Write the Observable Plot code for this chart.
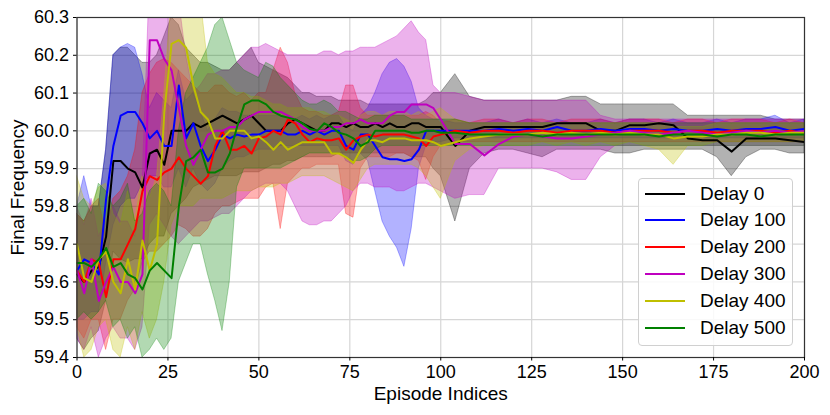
<!DOCTYPE html>
<html>
<head>
<meta charset="utf-8">
<script src="https://cdn.jsdelivr.net/npm/d3@7"></script>
<script src="https://cdn.jsdelivr.net/npm/@observablehq/plot@0.6"></script>
<style>
  body { margin: 0; background: #fff; font-family: "Liberation Sans", Arial, sans-serif; }
  #wrap { position: relative; width: 830px; height: 415px; }
  #legend { position: absolute; left: 638px; top: 178px; width: 155px; height: 168px;
    border: 1px solid #d0d0d0; border-radius: 4px; background: rgba(255,255,255,0.85); box-sizing: border-box; }
  .row { position: absolute; left: 0; height: 27px; display: flex; align-items: center; font-size: 19px; color: #000; }
  .row svg { margin-left: 6px; margin-right: 15px; }
</style>
</head>
<body>
<div id="wrap"></div>
<script>
const episodes = [
  0,2,4,6,8,10,12,14,16,18,
  20,22,24,26,28,30,32,34,36,38,
  40,42,44,46,48,50,52,54,56,58,
  60,62,64,66,68,70,72,74,76,78,
  80,82,84,86,88,90,92,94,96,98,
  100,104,108,112,116,120,124,128,132,136,
  140,144,148,152,156,160,164,168,172,176,
  180,184,188,192,196,200];

const seriesLabels = ["Delay 0","Delay 100","Delay 200","Delay 300","Delay 400","Delay 500"];
const xTicks = [0,25,50,75,100,125,150,175,200];
const yTicks = [59.4,59.5,59.6,59.7,59.8,59.9,60.0,60.1,60.2,60.3];

// Delay 0
const d0 = [
  59.62,59.60,59.63,59.64,59.72,59.92,59.92,59.90,59.89,59.85,
  59.94,59.95,59.91,60.00,60.00,60.00,60.02,60.01,60.02,60.03,
  60.04,60.03,60.02,60.03,60.04,60.02,60.00,60.00,60.00,60.02,
  60.03,60.02,60.01,60.00,60.00,60.02,60.02,60.01,60.02,60.01,
  60.01,60.02,60.01,60.02,60.01,60.01,60.02,60.02,60.01,60.01,
  60.01,59.96,60.00,60.01,60.01,60.01,60.01,60.01,60.02,60.02,
  60.02,60.00,60.00,60.015,60.015,60.02,60.015,59.98,59.975,59.975,
  59.945,59.98,59.98,59.98,59.975,59.97];
const d0lo = [
  59.45,59.42,59.45,59.47,59.55,59.68,59.66,59.65,59.66,59.66,
  59.70,59.72,59.72,59.78,59.80,59.82,59.85,59.86,59.87,59.88,
  59.88,59.88,59.88,59.89,59.89,59.89,59.90,59.91,59.91,59.92,
  59.92,59.93,59.93,59.93,59.93,59.93,59.94,59.94,59.94,59.94,
  59.94,59.94,59.94,59.94,59.94,59.94,59.93,59.93,59.93,59.90,
  59.88,59.76,59.90,59.94,59.95,59.95,59.94,59.93,59.95,59.95,
  59.95,59.95,59.94,59.94,59.95,59.95,59.95,59.95,59.95,59.93,
  59.88,59.93,59.95,59.95,59.94,59.94];
const d0hi = [
  59.78,59.76,59.80,59.80,59.95,60.20,60.22,60.22,60.20,60.18,
  60.18,60.20,60.25,60.30,60.28,60.22,60.20,60.18,60.18,60.17,
  60.16,60.16,60.18,60.20,60.22,60.18,60.17,60.16,60.15,60.14,
  60.12,60.10,60.10,60.09,60.09,60.09,60.08,60.08,60.08,60.08,
  60.07,60.07,60.07,60.07,60.07,60.07,60.07,60.07,60.08,60.10,
  60.10,60.15,60.09,60.08,60.08,60.08,60.08,60.08,60.08,60.09,
  60.09,60.07,60.07,60.07,60.07,60.07,60.07,60.04,60.04,60.04,
  60.04,60.04,60.04,60.03,60.03,60.03];

// Delay 100
const d1 = [
  59.63,59.66,59.65,59.62,59.82,59.96,60.04,60.05,60.05,60.02,
  59.98,60.00,59.96,59.96,60.12,59.98,60.02,59.96,59.92,59.95,
  59.99,59.98,59.99,59.985,59.99,59.99,60.00,60.00,60.00,59.99,
  59.99,60.00,59.99,60.00,59.99,60.00,60.00,59.96,59.95,59.99,
  59.99,59.96,59.93,59.925,59.925,59.92,59.925,59.95,60.00,60.00,
  60.00,60.00,60.00,60.00,60.005,60.00,60.005,60.00,60.01,60.00,
  60.00,60.005,60.00,60.005,60.005,60.00,60.005,60.00,60.00,60.005,
  60.00,60.005,60.005,60.01,60.00,60.005];
const d1lo = [
  59.50,59.50,59.52,59.52,59.65,59.75,59.80,59.82,59.82,59.86,
  59.88,59.88,59.85,59.85,59.90,59.85,59.90,59.86,59.84,59.86,
  59.90,59.92,59.93,59.93,59.94,59.95,59.95,59.95,59.96,59.96,
  59.96,59.96,59.96,59.96,59.96,59.96,59.96,59.92,59.91,59.94,
  59.92,59.84,59.76,59.72,59.69,59.64,59.74,59.90,59.96,59.97,
  59.97,59.98,59.98,59.98,59.98,59.98,59.98,59.98,59.98,59.98,
  59.98,59.98,59.98,59.98,59.98,59.98,59.98,59.98,59.98,59.98,
  59.98,59.98,59.98,59.98,59.98,59.98];
const d1hi = [
  59.80,59.88,59.80,59.80,59.95,60.20,60.22,60.23,60.22,60.15,
  60.06,60.10,60.08,60.06,60.16,60.08,60.10,60.05,60.00,60.03,
  60.06,60.05,60.05,60.04,60.04,60.04,60.04,60.04,60.04,60.03,
  60.03,60.04,60.03,60.04,60.03,60.04,60.04,60.01,60.00,60.04,
  60.06,60.10,60.15,60.18,60.19,60.17,60.13,60.06,60.04,60.03,
  60.03,60.02,60.02,60.02,60.03,60.02,60.03,60.02,60.03,60.02,
  60.02,60.03,60.02,60.03,60.03,60.02,60.03,60.02,60.02,60.03,
  60.02,60.03,60.03,60.04,60.02,60.03];

// Delay 200
const d2 = [
  59.63,59.60,59.66,59.65,59.56,59.66,59.66,59.70,59.74,59.84,
  59.88,59.87,59.89,59.90,59.93,59.90,59.88,59.86,59.88,59.96,
  60.00,59.95,59.95,59.96,59.94,59.98,59.985,60.00,59.99,60.03,
  60.02,59.99,59.97,59.98,59.975,59.975,59.98,59.95,59.975,59.985,
  59.99,59.985,59.99,59.99,59.99,59.99,59.985,59.98,59.96,59.985,
  59.99,60.00,59.995,60.00,60.00,59.995,60.00,60.00,59.995,60.00,
  60.00,60.00,59.995,60.00,60.00,60.00,59.995,60.00,60.00,59.995,
  60.00,60.00,60.00,59.995,60.00,59.995];
const d2lo = [
  59.48,59.45,59.50,59.50,59.42,59.50,59.50,59.55,59.58,59.65,
  59.68,59.68,59.70,59.72,59.75,59.74,59.72,59.72,59.74,59.78,
  59.80,59.80,59.81,59.82,59.82,59.82,59.85,59.86,59.74,59.86,
  59.88,59.90,59.90,59.91,59.91,59.91,59.91,59.78,59.77,59.90,
  59.93,59.93,59.93,59.93,59.94,59.94,59.93,59.92,59.87,59.93,
  59.96,59.97,59.97,59.97,59.97,59.97,59.97,59.97,59.97,59.97,
  59.97,59.97,59.97,59.97,59.97,59.97,59.97,59.97,59.97,59.97,
  59.97,59.97,59.97,59.97,59.97,59.97];
const d2hi = [
  59.78,59.76,59.80,59.82,59.72,59.82,59.84,59.88,59.95,60.10,
  60.15,60.18,60.19,60.18,60.16,60.14,60.12,60.10,60.10,60.12,
  60.12,60.10,60.09,60.10,60.08,60.10,60.10,60.16,60.22,60.18,
  60.10,60.06,60.05,60.05,60.04,60.04,60.05,60.12,60.12,60.06,
  60.04,60.04,60.04,60.04,60.04,60.04,60.04,60.04,60.05,60.04,
  60.02,60.03,60.02,60.03,60.03,60.02,60.03,60.03,60.02,60.03,
  60.03,60.03,60.02,60.03,60.03,60.03,60.02,60.03,60.03,60.02,
  60.03,60.03,60.03,60.02,60.03,60.02];

// Delay 300
const d3 = [
  59.63,59.57,59.66,59.55,59.60,59.64,59.60,59.60,59.57,59.62,
  60.24,60.24,60.19,60.16,60.06,59.96,59.91,59.95,59.99,60.00,
  60.00,60.01,60.01,60.03,60.04,60.05,60.05,60.05,60.05,60.04,
  60.03,60.01,60.00,60.00,60.00,60.01,60.01,60.02,60.02,60.03,
  60.02,60.02,60.02,60.04,60.05,60.05,60.07,60.07,60.07,60.06,
  60.03,59.965,59.965,59.935,59.965,59.985,59.99,59.985,59.98,59.98,
  59.985,59.99,59.995,60.00,59.995,59.99,59.995,60.00,59.995,59.99,
  59.995,60.00,59.995,60.00,59.995,60.00];
const d3lo = [
  59.45,59.42,59.48,59.40,59.45,59.48,59.45,59.45,59.42,59.48,
  59.75,59.78,59.75,59.72,59.70,59.72,59.74,59.76,59.76,59.77,
  59.78,59.78,59.80,59.82,59.84,59.85,59.86,59.86,59.86,59.84,
  59.80,59.76,59.75,59.75,59.76,59.76,59.78,59.80,59.84,59.86,
  59.86,59.85,59.85,59.85,59.84,59.84,59.85,59.86,59.86,59.85,
  59.84,59.82,59.83,59.83,59.90,59.90,59.90,59.90,59.89,59.87,
  59.87,59.93,59.96,59.96,59.96,59.96,59.96,59.96,59.96,59.96,
  59.96,59.96,59.96,59.96,59.96,59.96];
const d3hi = [
  59.80,59.75,59.82,59.72,59.76,59.80,59.76,59.76,59.72,59.85,
  60.40,60.40,60.40,60.40,60.35,60.20,60.10,60.12,60.15,60.15,
  60.16,60.16,60.18,60.20,60.22,60.22,60.23,60.22,60.21,60.20,
  60.20,60.20,60.20,60.20,60.21,60.21,60.20,60.21,60.21,60.22,
  60.22,60.22,60.23,60.24,60.25,60.27,60.29,60.26,60.24,60.12,
  60.10,60.10,60.09,60.08,60.08,60.08,60.08,60.08,60.08,60.08,
  60.08,60.04,60.03,60.03,60.03,60.03,60.03,60.03,60.03,60.03,
  60.03,60.03,60.03,60.03,60.03,60.03];

// Delay 400
const d4 = [
  59.70,59.61,59.60,59.66,59.68,59.60,59.57,59.66,59.58,59.71,
  59.63,59.70,60.05,60.23,60.24,60.22,60.12,60.05,60.03,59.98,
  59.98,60.00,60.00,60.00,59.98,59.985,59.97,59.95,59.97,59.95,
  59.96,59.97,59.97,59.97,59.97,59.94,59.94,59.93,59.915,59.95,
  59.975,59.975,59.97,59.98,59.98,59.98,59.975,59.975,59.975,59.97,
  59.96,59.97,59.98,59.985,59.99,59.99,59.99,59.995,59.99,59.995,
  59.99,59.995,59.99,59.995,59.99,59.99,59.98,59.985,59.985,59.99,
  59.99,59.995,59.995,59.99,59.995,59.995];
const d4lo = [
  59.48,59.40,59.42,59.48,59.50,59.42,59.40,59.48,59.42,59.52,
  59.45,59.50,59.60,59.75,59.80,59.80,59.80,59.82,59.82,59.82,
  59.82,59.83,59.84,59.84,59.84,59.85,59.85,59.85,59.86,59.86,
  59.87,59.88,59.88,59.88,59.88,59.87,59.86,59.85,59.84,59.87,
  59.90,59.91,59.91,59.91,59.91,59.91,59.91,59.90,59.88,59.85,
  59.82,59.92,59.95,59.96,59.96,59.96,59.96,59.97,59.96,59.97,
  59.96,59.97,59.96,59.97,59.96,59.95,59.91,59.96,59.96,59.97,
  59.97,59.97,59.97,59.97,59.97,59.97];
const d4hi = [
  59.88,59.82,59.80,59.85,59.86,59.78,59.75,59.84,59.76,59.88,
  59.82,59.88,60.10,60.35,60.40,60.40,60.40,60.35,60.18,60.15,
  60.14,60.12,60.10,60.10,60.09,60.09,60.08,60.07,60.07,60.06,
  60.06,60.06,60.06,60.05,60.05,60.04,60.04,60.03,60.02,60.04,
  60.05,60.05,60.04,60.05,60.05,60.05,60.04,60.05,60.04,60.05,
  60.06,60.03,60.02,60.02,60.02,60.02,60.02,60.02,60.02,60.02,
  60.02,60.02,60.02,60.02,60.02,60.02,60.01,60.01,60.01,60.02,
  60.02,60.02,60.02,60.02,60.02,60.02];

// Delay 500
const d5 = [
  59.65,59.65,59.64,59.66,59.69,59.64,59.65,59.62,59.61,59.58,
  59.63,59.65,59.63,59.61,59.80,59.92,59.93,59.95,59.89,59.89,
  59.90,59.94,60.01,60.07,60.08,60.08,60.07,60.05,60.04,60.035,
  60.03,60.02,60.005,60.00,60.02,60.01,59.995,59.99,59.98,59.96,
  59.97,60.00,60.00,60.00,60.00,60.00,59.995,59.995,60.00,60.00,
  59.995,59.995,59.99,59.99,59.99,59.99,59.99,59.985,59.99,59.99,
  59.99,59.99,59.99,59.99,59.99,59.985,59.99,59.99,59.99,59.985,
  59.99,59.99,59.985,59.99,59.99,59.99];
const d5lo = [
  59.50,59.52,59.50,59.52,59.55,59.48,59.50,59.45,59.48,59.40,
  59.42,59.45,59.42,59.45,59.60,59.65,59.70,59.70,59.62,59.55,
  59.47,59.60,59.85,59.90,59.90,59.90,59.90,59.90,59.90,59.91,
  59.92,59.93,59.94,59.94,59.94,59.94,59.94,59.93,59.92,59.92,
  59.93,59.95,59.96,59.96,59.96,59.96,59.96,59.96,59.96,59.96,
  59.96,59.96,59.96,59.96,59.96,59.96,59.96,59.96,59.96,59.96,
  59.96,59.96,59.96,59.96,59.96,59.96,59.96,59.96,59.96,59.96,
  59.96,59.96,59.96,59.96,59.96,59.96];
const d5hi = [
  59.80,59.82,59.78,59.86,59.84,59.80,59.82,59.86,59.76,59.78,
  59.84,59.86,59.84,59.80,60.00,60.10,60.14,60.18,60.22,60.28,
  60.30,60.24,60.18,60.16,60.15,60.14,60.18,60.17,60.14,60.12,
  60.10,60.08,60.07,60.07,60.08,60.07,60.05,60.05,60.04,60.03,
  60.03,60.04,60.04,60.04,60.04,60.04,60.03,60.03,60.03,60.03,
  60.03,60.03,60.02,60.02,60.02,60.02,60.02,60.02,60.02,60.02,
  60.02,60.02,60.02,60.02,60.02,60.02,60.02,60.02,60.02,60.02,
  60.02,60.02,60.02,60.02,60.02,60.02];

const means = [d0, d1, d2, d3, d4, d5];
const lows  = [d0lo, d1lo, d2lo, d3lo, d4lo, d5lo];
const highs = [d0hi, d1hi, d2hi, d3hi, d4hi, d5hi];
const colors = ["#000000", "#0000ff", "#ff0000", "#bf00bf", "#bfbf00", "#008000"];

[means, lows, highs].forEach(g => g.forEach((a, i) => {
  if (a.length !== episodes.length) console.error("length mismatch", i, a.length);
}));

const tables = seriesLabels.map((name, i) =>
  episodes.map((ep, j) => ({ ep, mean: means[i][j], lo: lows[i][j], hi: highs[i][j], name })));

const font = '"Liberation Sans", Arial, sans-serif';

const chart = Plot.plot({
  width: 830,
  height: 415,
  marginLeft: 76.5,
  marginRight: 26,
  marginTop: 17,
  marginBottom: 58,
  style: { fontFamily: font, fontSize: "18px", background: "white", color: "#000" },
  x: { domain: [0, 200] },
  y: { domain: [59.4, 60.3] },
  marks: [
    Plot.gridX(xTicks, { stroke: "#d6d6d6", strokeOpacity: 1, strokeWidth: 1.2 }),
    Plot.gridY(yTicks, { stroke: "#d6d6d6", strokeOpacity: 1, strokeWidth: 1.2 }),
    ...tables.map((t, i) => Plot.areaY(t, {
      x: "ep", y1: "lo", y2: "hi", fill: colors[i], fillOpacity: 0.3,
      stroke: colors[i], strokeOpacity: 0.3, strokeWidth: 1, clip: true
    })),
    ...tables.map((t, i) => Plot.lineY(t, {
      x: "ep", y: "mean", stroke: colors[i], strokeWidth: 2, clip: true
    })),
    Plot.frame({ stroke: "#333", strokeWidth: 1.2 }),
    Plot.axisX(xTicks, { tickSize: 3.5, tickPadding: 4, fontSize: 18, label: null, tickFormat: d => String(d) }),
    Plot.axisY(yTicks, { tickSize: 3.5, tickPadding: 4.5, fontSize: 18, label: null, tickFormat: d => d.toFixed(1) }),
    Plot.text(["Episode Indices"], { frameAnchor: "bottom", dy: 36, fontSize: 19, lineAnchor: "middle", text: d => d }),
    Plot.text(["Final Frequency"], { frameAnchor: "left", dx: -59, rotate: -90, fontSize: 19, lineAnchor: "middle", textAnchor: "middle", text: d => d })
  ]
});

const wrap = document.getElementById("wrap");
wrap.appendChild(chart);

const legend = document.createElement("div");
legend.id = "legend";
seriesLabels.forEach((name, i) => {
  const row = document.createElement("div");
  row.className = "row";
  row.style.top = (1 + i * 26.8) + "px";
  row.innerHTML = `<svg width="40" height="6"><line x1="0" y1="3" x2="40" y2="3" stroke="${colors[i]}" stroke-width="2"/></svg><span>${name}</span>`;
  legend.appendChild(row);
});
wrap.appendChild(legend);
</script>
</body>
</html>
